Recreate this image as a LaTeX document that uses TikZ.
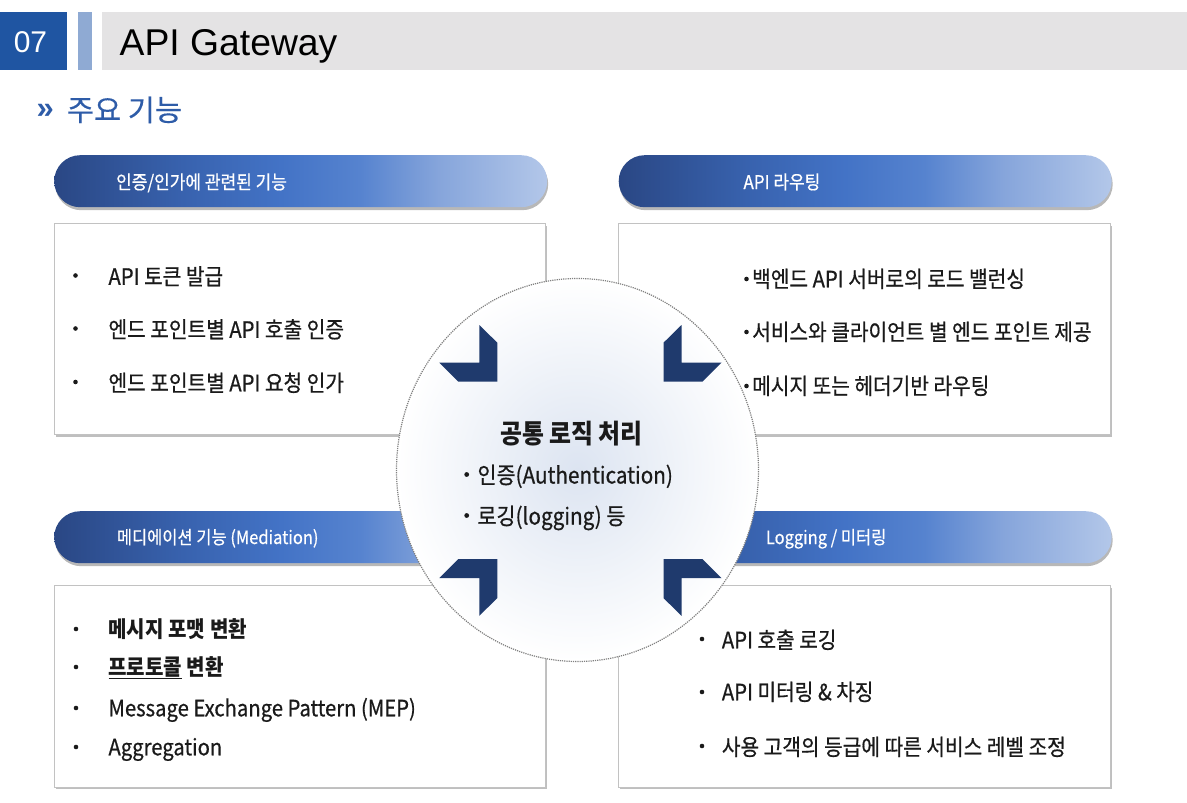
\documentclass[tikz,border=0pt]{standalone}
\usepackage{fontspec}
\setmainfont{Noto Sans CJK KR}[FakeStretch=0.9]
\newfontfamily\krmed{Noto Sans CJK KR}[FakeStretch=0.9, FakeBold=0.6]
\newfontfamily\krwide{Noto Sans CJK KR}[FakeBold=0.3]
\newfontfamily\arialf{Liberation Sans}
\usetikzlibrary{shapes.geometric,shadows,calc}

% palette
\definecolor{hdrblue}{HTML}{1F55A2}
\definecolor{hdrlight}{HTML}{8FAAD3}
\definecolor{hdrgray}{HTML}{E4E3E4}
\definecolor{subblue}{HTML}{2E5CA8}
\definecolor{navy}{HTML}{1F3A6D}
\definecolor{ink}{HTML}{1A1A1A}
\definecolor{boxline}{HTML}{C2C2C2}
\definecolor{hubcore}{HTML}{DCE4F1}
\definecolor{pA}{HTML}{2A4784}
\definecolor{pB}{HTML}{3862AE}
\definecolor{pC}{HTML}{4373C6}
\definecolor{pD}{HTML}{5683CF}
\definecolor{pE}{HTML}{86A5DB}
\definecolor{pF}{HTML}{B3C7E9}

% left-to-right gradient of the section pills
\pgfdeclarehorizontalshading{pillshade}{100bp}{color(0bp)=(pA); color(25bp)=(pA); color(38bp)=(pB); color(48bp)=(pC); color(56bp)=(pD); color(64bp)=(pE); color(75bp)=(pF); color(100bp)=(pF)}

\tikzset{
  pill/.style={rectangle, rounded corners=26pt, anchor=north west, inner sep=0pt,
    minimum width=493pt, minimum height=52pt, shading=pillshade,
    drop shadow={shadow xshift=1pt, shadow yshift=-3pt, opacity=0.28, fill=black}},
  pilltext/.style={anchor=west, inner sep=0pt, text=white,
    font=\krmed\fontsize{18.9}{22}\selectfont, text height=14pt, text depth=0pt},
  card/.style={rectangle, anchor=north west, inner sep=0pt, fill=white,
    draw=boxline, line width=0.9pt,
    drop shadow={shadow xshift=2pt, shadow yshift=-2.5pt, opacity=0.25, fill=black}},
  item/.style={anchor=west, inner sep=0pt, text=ink,
    font=\krmed\fontsize{22.5}{26}\selectfont, text height=16.6pt, text depth=0pt},
  bolditem/.style={item, font=\bfseries\fontsize{22.3}{26}\selectfont},
  hubitem/.style={anchor=west, inner sep=0pt, text=ink,
    font=\krmed\fontsize{23}{26}\selectfont, text height=17pt, text depth=0pt},
  bul/.style={circle, fill=ink, inner sep=0pt, minimum size=4.6pt},
  chevron/.pic={
    \fill[navy] (-101.1,-145.4) -- (-83.1,-127.7) -- (-83.1,-88.7)
      -- (-122.1,-88.7) -- (-141.1,-107.7) -- (-101.1,-107.7) -- cycle;
  }
}

\begin{document}
\begin{tikzpicture}[x=1pt,y=-1pt]
\useasboundingbox[fill=white] (0,0) rectangle (1187,803);

% title strip
\node[fill=hdrblue, anchor=north west, inner sep=0pt, minimum width=67pt, minimum height=58.5pt] (secnum) at (0,11.5) {};
\node[text=white, inner sep=0pt, font=\arialf\fontsize{30}{30}\selectfont] (secnumtxt) at (30.5,41.7) {07};
\node[fill=hdrlight, anchor=north west, inner sep=0pt, minimum width=14pt, minimum height=58.5pt] (secbar) at (78,11.5) {};
\node[fill=hdrgray, anchor=north west, inner sep=0pt, minimum width=1085.5pt, minimum height=58.5pt] (titlebar) at (101.5,11.5) {};
\node[anchor=base west, inner sep=0pt, text=black, font=\arialf\fontsize{37.3}{38}\selectfont] (title) at (119.5,55) {API Gateway};

% subtitle
\node[anchor=base west, inner sep=0pt, text=subblue, font=\arialf\bfseries\fontsize{31}{31}\selectfont] (subchev) at (36.5,118.5) {»};
\node[anchor=west, inner sep=0pt, text=subblue, font=\krwide\fontsize{29.5}{32}\selectfont, text height=21.8pt, text depth=0pt] (subtitle) at (66.7,110) {주요 기능};

% section pills
\node[pill] (pillA) at (54,155) {};
\node[pill] (pillB) at (618.5,155) {};
\node[pill] (pillC) at (54,511) {};
\node[pill] (pillD) at (618.5,511) {};

% content cards
\node[card, minimum width=491pt, minimum height=210.5pt] (cardA) at (54,223.3) {};
\node[card, minimum width=492.5pt, minimum height=210.5pt] (cardB) at (617.5,223.3) {};
\node[card, minimum width=491.5pt, minimum height=201.5pt] (cardC) at (53.5,585) {};
\node[card, minimum width=492pt, minimum height=201.5pt] (cardD) at (617.5,585) {};

% shared-logic hub
\node[ellipse, inner sep=0pt, minimum width=362pt, minimum height=383pt,
      inner color=hubcore, outer color=white,
      draw=black!50, densely dotted, line width=1.2pt] (hub) at (577.5,470) {};
\coordinate (hubc) at ($(hub.center)+(2.9,0.4)$);
\pic at (hubc) {chevron};
\pic[xscale=-1] at (hubc) {chevron};
\pic[yscale=-1] at (hubc) {chevron};
\pic[xscale=-1,yscale=-1] at (hubc) {chevron};

% pill captions
\node[pilltext] (pillAtxt) at (116,182) {인증/인가에 관련된 기능};
\node[pilltext] (pillBtxt) at (743.3,182) {API 라우팅};
\node[pilltext, font=\krmed\fontsize{18.3}{22}\selectfont] (pillCtxt) at (116.7,537) {메디에이션 기능 (Mediation)};
\node[pilltext, font=\krmed\fontsize{18.3}{22}\selectfont] (pillDtxt) at (765.7,537) {Logging / 미터링};

% card A
\node[bul] (a1b) at (75.5,275.5) {};
\node[bul] (a2b) at (75.5,328.5) {};
\node[bul] (a3b) at (75.5,382) {};
\node[item] (a1) at (108.3,276.5) {API 토큰 발급};
\node[item] (a2) at (108.3,329.5) {엔드 포인트별 API 호출 인증};
\node[item] (a3) at (108.3,383) {엔드 포인트별 API 요청 인가};

% card B
\node[bul] (b1b) at (746.5,279) {};
\node[bul] (b2b) at (746.5,332) {};
\node[bul] (b3b) at (746.5,386) {};
\node[item] (b1) at (752,279) {백엔드 API 서버로의 로드 밸런싱};
\node[item] (b2) at (752,332) {서비스와 클라이언트 별 엔드 포인트 제공};
\node[item] (b3) at (752,386) {메시지 또는 헤더기반 라우팅};

% card C
\node[bul] (c1b) at (76,629) {};
\node[bul] (c2b) at (76,667) {};
\node[bul] (c3b) at (76,708) {};
\node[bul] (c4b) at (76,747) {};
\node[bolditem] (c1) at (108.3,629) {메시지 포맷 변환};
\node[bolditem] (c2) at (108.3,667) {\underline{프로토콜} 변환};
\node[item] (c3) at (108.3,708) {Message Exchange Pattern (MEP)};
\node[item] (c4) at (108.3,747) {Aggregation};

% card D
\node[bul] (d1b) at (702,639) {};
\node[bul] (d2b) at (702,692) {};
\node[bul] (d3b) at (702,746) {};
\node[item] (d1) at (721.7,640) {API 호출 로깅};
\node[item] (d2) at (721.7,692) {API 미터링 \& 차징};
\node[item] (d3) at (721.7,747) {사용 고객의 등급에 따른 서비스 레벨 조정};

% hub text
\node[anchor=west, inner sep=0pt, text=ink, font=\bfseries\fontsize{26.5}{30}\selectfont, text height=19.6pt, text depth=0pt] (hubtitle) at (500,433.3) {공통 로직 처리};
\node[bul, minimum size=4.8pt] (h1b) at (466.7,474.5) {};
\node[bul, minimum size=4.8pt] (h2b) at (466.7,515.5) {};
\node[hubitem] (h1) at (477.3,475) {인증(Authentication)};
\node[hubitem] (h2) at (477.3,516) {로깅(logging) 등};
\end{tikzpicture}
\end{document}
